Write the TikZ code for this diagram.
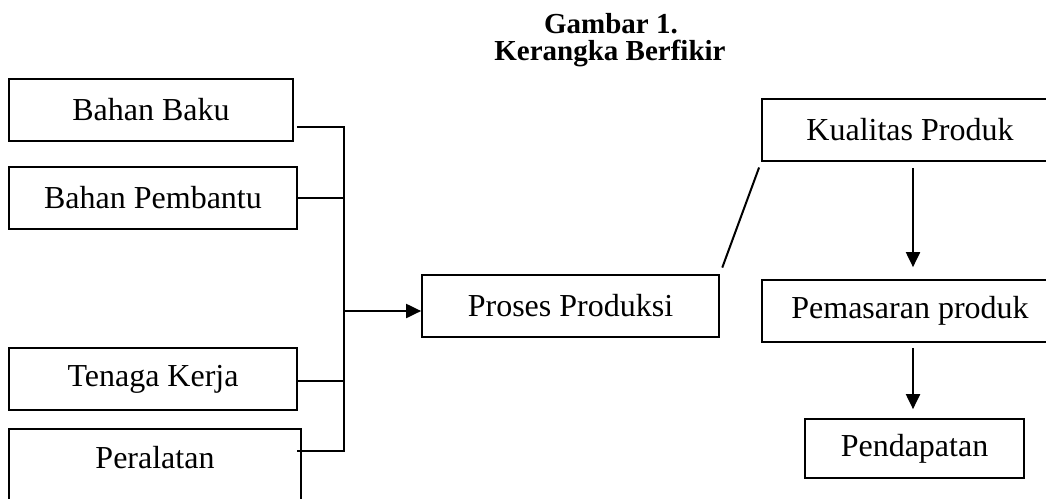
\documentclass[tikz,border=0pt]{standalone}
\usepackage{fontspec}
\setmainfont{Liberation Serif}
\usetikzlibrary{arrows.meta}

\begin{document}
\begin{tikzpicture}[x=1pt, y=-1pt,
    box/.style={draw, line width=1.7pt, inner sep=0pt, minimum height=62pt, font=\fontsize{32}{38}\selectfont},
    link/.style={line width=2pt},
    flow/.style={line width=2pt, -{Triangle[length=15pt, width=14pt]}},
    heading/.style={anchor=base, inner sep=0pt, font=\fontsize{29}{32}\selectfont\bfseries}]
    \clip (0,0) rectangle (1046,498);

    % Judul
    \node[heading] (judul1) at (611,33) {Gambar 1.};
    \node[heading] (judul2) at (610,60) {Kerangka Berfikir};

    % Input
    \node[box, minimum width=284pt] (baku) at (151,110) {Bahan Baku};
    \node[box, minimum width=288pt] (bantu) at (153,198) {Bahan Pembantu};
    \node[box, minimum width=288pt] (tenaga) at (153,379) {Tenaga Kerja};
    \node[box, minimum width=292pt, minimum height=0pt, text height=40pt, text depth=42pt, anchor=north] (alat) at (155,428) {Peralatan};

    % Proses dan hasil
    \node[box, minimum width=297pt] (proses) at (570.5,306) {Proses Produksi};
    \node[box, minimum width=296pt] (kualitas) at (910,130) {Kualitas Produk};
    \node[box, minimum width=296pt] (pasar) at (910,311) {Pemasaran produk};
    \node[box, minimum width=219pt, minimum height=59pt] (hasil) at (914.5,448.5) {Pendapatan};

    \coordinate (bus) at (344,0);

    % Garis penghubung
    \draw[link] ([xshift=3pt, yshift=-17pt]baku.east) -| (bus |- 0,451) -- ([xshift=-5pt, yshift=-23pt]alat.north east);
    \draw[link] (bantu.east) -- (bus |- bantu.east);
    \draw[link] ([yshift=-2pt]tenaga.east) -- (bus |- 0,381);
    \draw[flow] (bus |- 0,311) -- ([yshift=-5pt]proses.west);
    \draw[link, shorten <=7pt, shorten >=6pt] (proses.north east) -- (kualitas.south west);
    \draw[flow, shorten <=6pt, shorten >=12pt] ([xshift=3pt]kualitas.south) -- ([xshift=3pt]pasar.north);
    \draw[flow, shorten <=5pt, shorten >=9pt] ([xshift=3pt]pasar.south) -- ([xshift=-1.5pt]hasil.north);
\end{tikzpicture}
\end{document}
